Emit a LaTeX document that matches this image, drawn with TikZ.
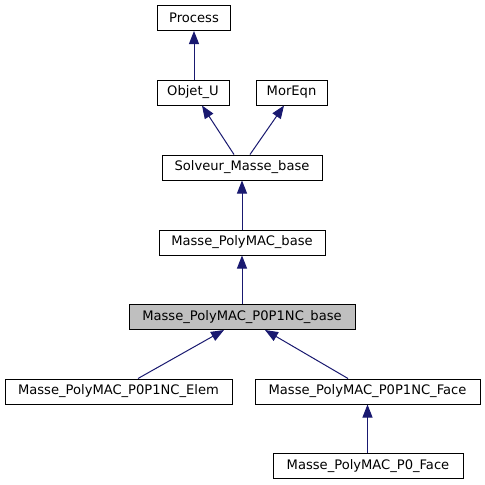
\documentclass[tikz,border=0pt]{standalone}
\usepackage{fontspec}
\setmainfont{DejaVu Sans}
\usetikzlibrary{arrows.meta,calc}
\definecolor{edgeblue}{HTML}{191970}
\definecolor{hlgray}{HTML}{BFBFBF}
\tikzset{
  box/.style={draw=black, line width=1pt, fill=white, inner sep=0pt, minimum height=25pt,
    font=\fontsize{13.1}{15}\selectfont, text=black},
  hlbox/.style={box, fill=hlgray},
  inh/.style={draw=edgeblue, line width=1pt, {Triangle[length=13pt,width=10pt,fill=edgeblue]}-}
}
\begin{document}
\begin{tikzpicture}[x=1pt,y=-1pt]
\useasboundingbox[fill=white] (0,0) rectangle (485,485);
\node[box, minimum width=73pt] (process) at (194,18) {Process};
\node[box, minimum width=72pt] (objet) at (193,92.5) {Objet\_U};
\node[box, minimum width=71pt] (moreqn) at (291.5,92.5) {MorEqn};
\node[box, minimum width=160pt] (solveur) at (242,167.5) {Solveur\_Masse\_base};
\node[box, minimum width=166pt] (pmbase) at (242,242.5) {Masse\_PolyMAC\_base};
\node[hlbox, minimum width=226pt] (p0p1base) at (242,317) {Masse\_PolyMAC\_P0P1NC\_base};
\node[box, minimum width=227pt] (elem) at (118.5,391.5) {Masse\_PolyMAC\_P0P1NC\_Elem};
\node[box, minimum width=225pt] (face) at (367.5,391.5) {Masse\_PolyMAC\_P0P1NC\_Face};
\node[box, minimum width=190pt] (p0face) at (368,466) {Masse\_PolyMAC\_P0\_Face};

\draw[inh] (process.south) -- (objet.north -| process.south);
\draw[inh] ($(objet.south)+(9,0)$) -- ($(solveur.north)+(-8,0)$);
\draw[inh] ($(moreqn.south)+(-7.5,0)$) -- ($(solveur.north)+(8,0)$);
\draw[inh] (solveur.south) -- (pmbase.north);
\draw[inh] (pmbase.south) -- (p0p1base.north);
\draw[inh] ($(p0p1base.south)+(-18,0)$) -- ($(elem.north)+(19.5,0)$);
\draw[inh] ($(p0p1base.south)+(23,0)$) -- ($(face.north)+(-19.5,0)$);
\draw[inh] (face.south) -- (face.south |- p0face.north);
\end{tikzpicture}
\end{document}
